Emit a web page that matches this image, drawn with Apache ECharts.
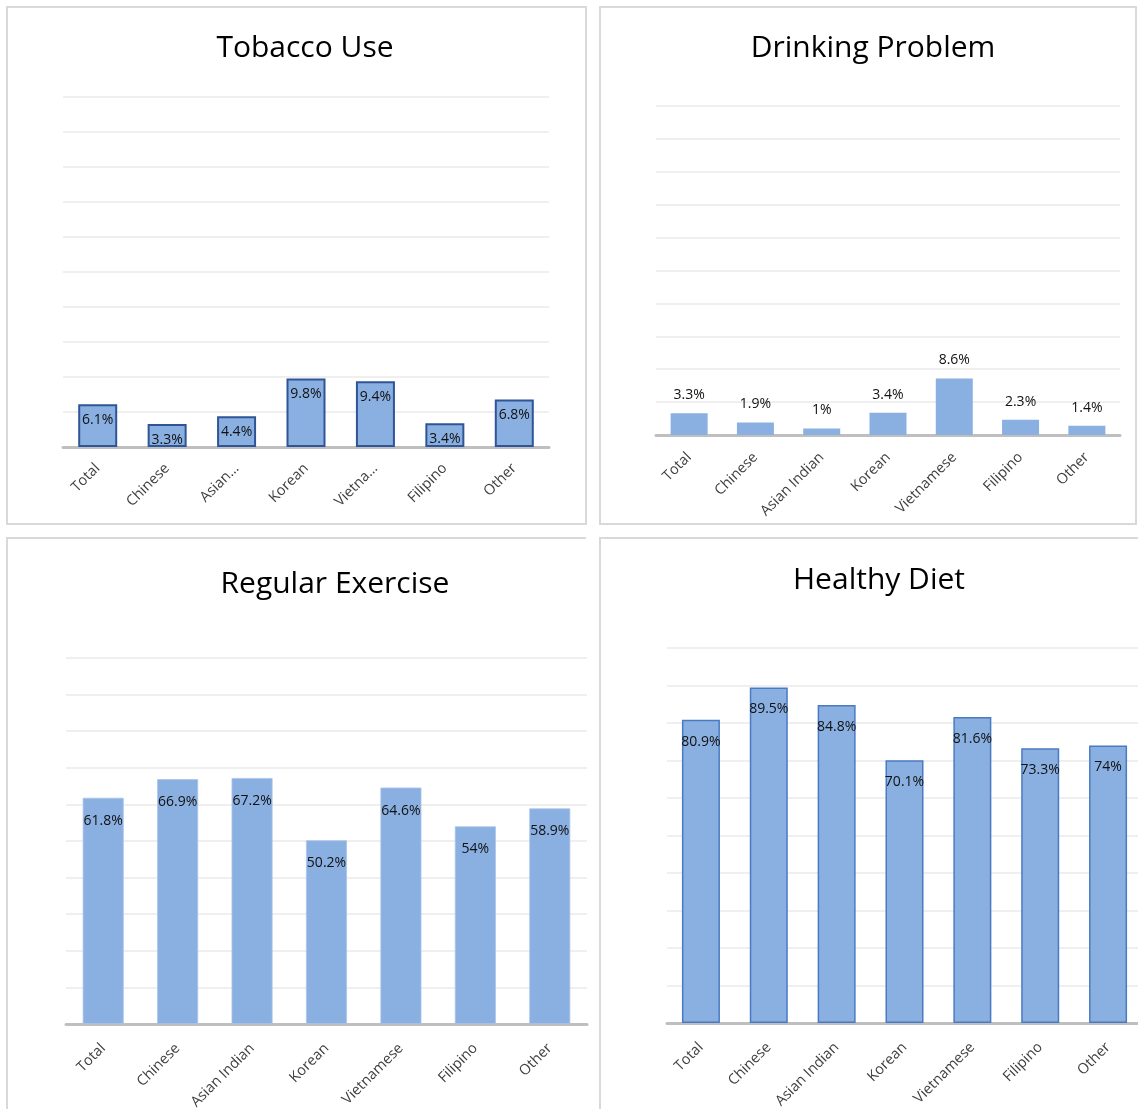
<!DOCTYPE html>
<html>
<head>
<meta charset="utf-8">
<title>Health Behaviors by Asian Subgroup</title>
<script src="https://cdn.jsdelivr.net/npm/echarts@6/dist/echarts.min.js"></script>
<style>
  html, body { margin: 0; padding: 0; background: #fff; }
  #chart { width: 1138px; height: 1109px; }
</style>
</head>
<body>
<div id="chart"></div>
<script>
// Subgroups shown on every panel
const groups = ['Total', 'Chinese', 'Asian Indian', 'Korean', 'Vietnamese', 'Filipino', 'Other'];
// The tobacco panel shows shortened names for the two long ones
const tobaccoTicks = ['Total', 'Chinese', 'Asian…', 'Korean', 'Vietna…', 'Filipino', 'Other'];

// Percentages per subgroup
const tobaccoUse = [6.1, 3.3, 4.4, 9.8, 9.4, 3.4, 6.8];
const drinkingProblem = [3.3, 1.9, 1, 3.4, 8.6, 2.3, 1.4];
const regularExercise = [61.8, 66.9, 67.2, 50.2, 64.6, 54, 58.9];
const healthyDiet = [80.9, 89.5, 84.8, 70.1, 81.6, 73.3, 74];

const titles = ['Tobacco Use', 'Drinking Problem', 'Regular Exercise', 'Healthy Diet'];

const FONT = '"Open Sans", "Noto Sans", sans-serif';
const FILL = '#8aafe1';

const chart = echarts.init(document.getElementById('chart'), null, { renderer: 'canvas' });

// fixed plot boxes; labels may hang past the panel edge, so no auto shrinking
const grids = [
  { left: 63, top: 97, width: 486, height: 350 },
  { left: 656, top: 106, width: 464, height: 329 },
  { left: 66, top: 658, width: 521, height: 366 },
  { left: 667, top: 648, width: 475, height: 375 }
].map(g => Object.assign({ containLabel: false, outerBoundsMode: 'none' }, g));

const titleSpots = [
  { x: 305, y: 33 },
  { x: 873, y: 33 },
  { x: 335, y: 569 },
  { x: 879, y: 565 }
];

const tickSets = [tobaccoTicks, groups, groups, groups];
const valueSets = [tobaccoUse, drinkingProblem, regularExercise, healthyDiet];
const yMax = [50, 50, 100, 100];
const yStep = [5, 5, 10, 10];
const barWidths = [39, 37, 41, 38];
const tickMargins = [19, 20, 22, 22];
const barBorders = [
  { borderColor: '#2f5597', borderWidth: 2 },
  { borderColor: FILL, borderWidth: 0 },
  { borderColor: '#a9c4ea', borderWidth: 0.8 },
  { borderColor: '#4a7bc2', borderWidth: 1.5 }
];
const labelPlacement = [
  { position: 'insideTop', distance: 9 },
  { position: 'top', distance: 11 },
  { position: 'insideTop', distance: 16 },
  { position: 'insideTop', distance: 15 }
];

const option = {
  backgroundColor: '#ffffff',
  animation: false,
  title: titles.map((t, i) => ({
    text: t,
    left: titleSpots[i].x,
    top: titleSpots[i].y,
    padding: 0,
    textAlign: 'center',
    textStyle: { fontFamily: FONT, fontSize: 30, fontWeight: 'normal', color: '#000000' }
  })),
  grid: grids,
  xAxis: tickSets.map((ticks, i) => ({
    type: 'category',
    gridIndex: i,
    data: ticks,
    axisLine: { lineStyle: { color: '#bfbfbf', width: 3 } },
    axisTick: { show: false },
    axisLabel: {
      rotate: 45,
      interval: 0,
      margin: tickMargins[i],
      fontFamily: FONT,
      fontSize: 14.5,
      color: '#404040'
    }
  })),
  yAxis: yMax.map((m, i) => ({
    type: 'value',
    gridIndex: i,
    min: 0,
    max: m,
    interval: yStep[i],
    axisLabel: { show: false },
    axisLine: { show: false },
    axisTick: { show: false },
    splitLine: { lineStyle: { color: '#efefef', width: 2 } }
  })),
  series: valueSets.map((vals, i) => ({
    type: 'bar',
    xAxisIndex: i,
    yAxisIndex: i,
    data: vals,
    barWidth: barWidths[i],
    itemStyle: Object.assign({ color: FILL }, barBorders[i]),
    label: {
      show: true,
      position: labelPlacement[i].position,
      distance: labelPlacement[i].distance,
      formatter: p => p.value + '%',
      fontFamily: FONT,
      fontSize: 14,
      color: '#111111'
    }
  })),
  graphic: [
    // panel frames
    { type: 'rect', shape: { x: 7, y: 7, width: 579, height: 517 },
      style: { fill: null, stroke: '#d9d9d9', lineWidth: 2 }, silent: true },
    { type: 'rect', shape: { x: 600, y: 7, width: 536, height: 517 },
      style: { fill: null, stroke: '#d9d9d9', lineWidth: 2 }, silent: true },
    { type: 'polyline', shape: { points: [[7, 1112], [7, 538], [586, 538]] },
      style: { fill: null, stroke: '#d9d9d9', lineWidth: 2 }, silent: true },
    { type: 'polyline', shape: { points: [[600, 1112], [600, 538], [1140, 538]] },
      style: { fill: null, stroke: '#d9d9d9', lineWidth: 2 }, silent: true }
  ]
};

chart.setOption(option);
</script>
</body>
</html>
